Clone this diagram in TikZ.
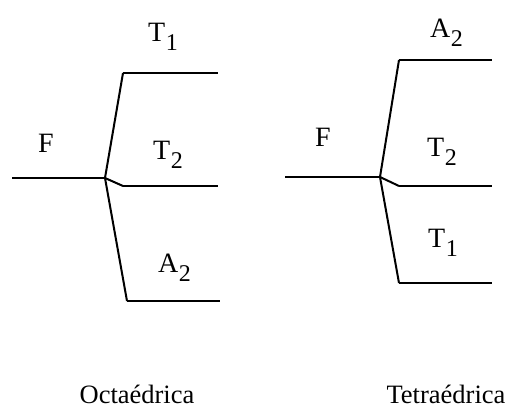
\documentclass[tikz,border=0pt]{standalone}
\usepackage{fontspec}
\setmainfont{Liberation Serif}
\newcommand{\lvlsub}[2]{#1\kern0.5pt\raisebox{-0.29em}{\fontsize{24}{24}\selectfont #2}}
\begin{document}
\begin{tikzpicture}[x=1pt,y=-1pt,
  lvl/.style={line width=2.8pt},
  slant/.style={line width=2pt, line join=round},
  lab/.style={anchor=base west, inner sep=0pt, font=\fontsize{28}{30}\selectfont},
  captext/.style={anchor=base, inner sep=0pt, font=\fontsize{26.5}{28}\selectfont}]
\useasboundingbox (0,0) rectangle (507,411);
% Octahedral
\coordinate (oF0) at (12,178);
\coordinate (oB) at (105,178);
\coordinate (oT1a) at (123,73);
\coordinate (oT1b) at (218,73);
\coordinate (oT2a) at (123,186);
\coordinate (oT2b) at (218,186);
\coordinate (oA2a) at (127,301);
\coordinate (oA2b) at (220,301);
\draw[lvl] (oF0) -- (oB);
\draw[slant] (oB) -- (oT1a);
\draw[lvl] (oT1a) -- (oT1b);
\draw[slant] (oB) -- (oT2a);
\draw[lvl] (oT2a) -- (oT2b);
\draw[slant] (oB) -- (oA2a);
\draw[lvl] (oA2a) -- (oA2b);
\node[lab] (oF) at (38,153) {F};
\node[lab] (oT1) at (148,42) {\lvlsub{T}{1}};
\node[lab] (oT2) at (153,160) {\lvlsub{T}{2}};
\node[lab] (oA2) at (158,273) {\lvlsub{A}{2}};
\node[captext] (octa) at (137,404) {Octaédrica};
% Tetrahedral
\coordinate (tF0) at (285,177);
\coordinate (tB) at (380,177);
\coordinate (tA2a) at (399,60);
\coordinate (tA2b) at (492,60);
\coordinate (tT2a) at (399,186);
\coordinate (tT2b) at (492,186);
\coordinate (tT1a) at (399,283);
\coordinate (tT1b) at (492,283);
\draw[lvl, line width=2.2pt] (tF0) -- (tB);
\draw[slant] (tB) -- (tA2a);
\draw[lvl] (tA2a) -- (tA2b);
\draw[slant] (tB) -- (tT2a);
\draw[lvl] (tT2a) -- (tT2b);
\draw[slant] (tB) -- (tT1a);
\draw[lvl] (tT1a) -- (tT1b);
\node[lab] (tF) at (315,147) {F};
\node[lab] (tA2) at (430,38) {\lvlsub{A}{2}};
\node[lab] (tT2) at (427,157) {\lvlsub{T}{2}};
\node[lab] (tT1) at (428,248) {\lvlsub{T}{1}};
\node[captext] (tetra) at (446,404) {Tetraédrica};
\end{tikzpicture}
\end{document}
